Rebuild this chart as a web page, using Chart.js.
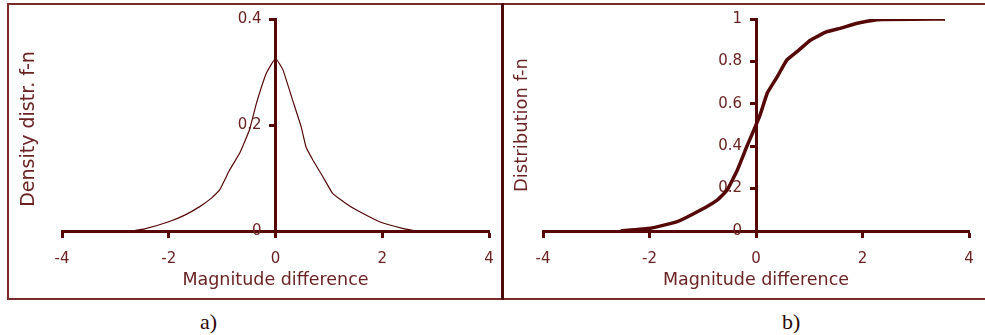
<!DOCTYPE html>
<html>
<head>
<meta charset="utf-8">
<script src="https://cdn.jsdelivr.net/npm/chart.js@4.4.1/dist/chart.umd.min.js"></script>
<style>
  html, body { margin: 0; padding: 0; background: #fff; width: 985px; height: 335px; overflow: hidden; }
  #frame { position: absolute; left: 7px; top: 3px; width: 990px; height: 293px;
           border-top: 2px solid #7a2b2b; border-left: 2px solid #7a2b2b; border-bottom: 2px solid #7a2b2b; }
  #divider { position: absolute; left: 501px; top: 3px; width: 3px; height: 297px; background: #4d0a0a; }
  .panel { position: absolute; top: 0; }
  #pa { left: 0; }
  #pb { left: 502px; }
  .cap { position: absolute; top: 309px; font: 22px "Liberation Serif", "Times New Roman", serif; color: #2d0808; }
</style>
</head>
<body>
<div id="frame"></div>
<div class="panel" id="pa"><canvas id="ca" width="500" height="300"></canvas></div>
<div id="divider"></div>
<div class="panel" id="pb"><canvas id="cb" width="483" height="300"></canvas></div>
<div class="cap" style="left:200px">a)</div>
<div class="cap" style="left:782px">b)</div>
<script>
// Magnitude difference grid shared by both panels
const magnitudeTicks = [-4, -2, 0, 2, 4];
const densityTicks = [0, 0.2, 0.4];
const distributionTicks = [0, 0.2, 0.4, 0.6, 0.8, 1];

// a) density distribution function
const densityX = [-2.68, -2.45, -2.0, -1.7, -1.42, -1.2, -1.05, -0.86, -0.67, -0.49, -0.36, -0.17, 0,
                  0.14, 0.32, 0.48, 0.57, 0.70, 0.89, 1.07, 1.32, 1.51, 1.95, 2.38, 2.63];
const densityY = [0, 0.004, 0.0175, 0.03, 0.046, 0.062, 0.077, 0.115, 0.147, 0.19, 0.24, 0.298, 0.326,
                  0.304, 0.247, 0.197, 0.159, 0.134, 0.102, 0.071, 0.052, 0.040, 0.0175, 0.005, 0];

// b) cumulative distribution function
const distributionX = [-2.54, -1.98, -1.48, -1.04, -0.73, -0.54, -0.35, -0.17, 0, 0.08, 0.21, 0.40, 0.58,
                       0.77, 1.02, 1.33, 1.58, 1.90, 2.27, 3.55];
const distributionY = [0, 0.013, 0.044, 0.099, 0.146, 0.193, 0.288, 0.40, 0.50, 0.55, 0.65, 0.728, 0.807,
                       0.846, 0.90, 0.94, 0.956, 0.98, 0.997, 1.0];

const AXIS = '#560808';
const TEXT = '#6a2222';
const TICK_FONT = { family: '"DejaVu Sans", sans-serif', size: 15 };

function pairs(xs, ys) { return xs.map((x, i) => ({ x: x, y: ys[i] })); }

// Centred axes should not push the plot area in: the layout padding alone fixes it
function noAxisSpace(s) {
  s.paddingLeft = s.paddingRight = s.paddingTop = s.paddingBottom = 0;
  if (s.isHorizontal()) { s.height = 0; } else { s.width = 0; }
}

// Axis titles drawn on the canvas (y title reads bottom-to-top, away from the centred axis)
const axisTitles = {
  id: 'axisTitles',
  afterDraw(chart, args, o) {
    const ctx = chart.ctx, a = chart.chartArea;
    ctx.save();
    ctx.fillStyle = o.color;
    ctx.textAlign = 'center';
    ctx.textBaseline = 'alphabetic';
    ctx.font = o.xFont;
    ctx.fillText(o.xText, (a.left + a.right) / 2, o.xBaseline);
    ctx.translate(o.yBaseline, o.yCenter);
    ctx.rotate(-Math.PI / 2);
    ctx.font = o.yFont;
    ctx.fillText(o.yText, 0, 0);
    ctx.restore();
  }
};

function makeChart(id, xs, ys, yTicks, yMax, lineWidth, padding, titles) {
  return new Chart(document.getElementById(id), {
    type: 'scatter',
    data: {
      datasets: [{
        data: pairs(xs, ys),
        showLine: true,
        borderColor: AXIS,
        borderWidth: lineWidth,
        pointRadius: 0,
        pointHoverRadius: 0,
        tension: 0.1
      }]
    },
    options: {
      responsive: false,
      animation: false,
      layout: { padding: padding, autoPadding: false },
      plugins: { legend: { display: false }, tooltip: { enabled: false }, axisTitles: titles },
      scales: {
        x: {
          type: 'linear', min: -4, max: 4, position: { y: 0 },
          afterBuildTicks: s => { s.ticks = magnitudeTicks.map(v => ({ value: v })); },
          afterFit: noAxisSpace,
          grid: { drawOnChartArea: false, tickLength: 5, tickWidth: 3, tickColor: AXIS },
          border: { display: true, color: AXIS, width: 3 },
          ticks: { color: TEXT, font: TICK_FONT, padding: 14, maxRotation: 0 }
        },
        y: {
          type: 'linear', min: 0, max: yMax, position: 'center',
          afterBuildTicks: s => { s.ticks = yTicks.map(v => ({ value: v })); },
          afterFit: noAxisSpace,
          grid: { drawOnChartArea: false, tickLength: 5, tickWidth: 3, tickColor: AXIS },
          border: { display: true, color: AXIS, width: 3 },
          ticks: { color: TEXT, font: TICK_FONT, padding: 9, callback: v => String(v) }
        }
      }
    },
    plugins: [axisTitles]
  });
}

makeChart('ca', densityX, densityY, densityTicks, 0.4, 1.2,
  { left: 62, right: 11, top: 19, bottom: 69 },
  { color: TEXT, xText: 'Magnitude difference', xFont: '17.5px "DejaVu Sans", sans-serif', xBaseline: 285,
    yText: 'Density distr. f-n', yFont: '19px "DejaVu Sans", sans-serif', yBaseline: 34, yCenter: 129 });

makeChart('cb', distributionX, distributionY, distributionTicks, 1, 3.5,
  { left: 41, right: 16, top: 19, bottom: 69 },
  { color: TEXT, xText: 'Magnitude difference', xFont: '17.5px "DejaVu Sans", sans-serif', xBaseline: 285,
    yText: 'Distribution f-n', yFont: '18px "DejaVu Sans", sans-serif', yBaseline: 25, yCenter: 125 });
</script>
</body>
</html>
